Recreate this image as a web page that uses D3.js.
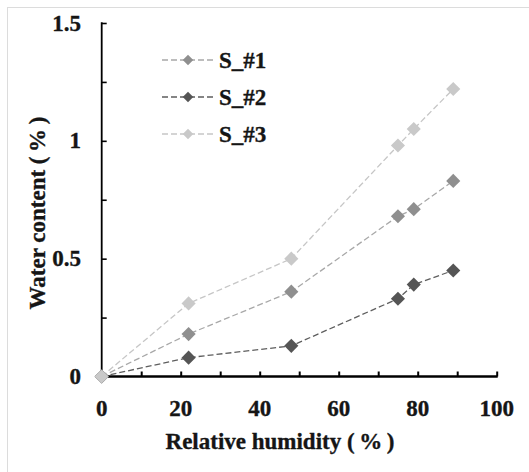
<!DOCTYPE html>
<html>
<head>
<meta charset="utf-8">
<script src="https://cdn.jsdelivr.net/npm/d3@7"></script>
<style>
  html, body { margin: 0; padding: 0; background: #fff; }
  svg { display: block; }
</style>
</head>
<body>
<svg id="chart" width="529" height="472"></svg>
<script>
// Relative humidity (%) at which each sample was weighed
const humidity = [0, 22, 48, 75, 79, 89];

// Water content (%) per sample
const s1 = [0, 0.18, 0.36, 0.68, 0.71, 0.83];
const s2 = [0, 0.08, 0.13, 0.33, 0.39, 0.45];
const s3 = [0, 0.31, 0.50, 0.98, 1.05, 1.22];

const seriesNames = ["S_#1", "S_#2", "S_#3"];
const xTickValues = [0, 20, 40, 60, 80, 100];
const yTickValues = [0, 0.5, 1, 1.5];

const series = [
  { name: seriesNames[0], values: s1, marker: "#8f8f8f", line: "#a8a8a8" },
  { name: seriesNames[1], values: s2, marker: "#555555", line: "#5e5e5e" },
  { name: seriesNames[2], values: s3, marker: "#c9c9c9", line: "#c6c6c6" }
];

const svg = d3.select("#chart");

function label(sel) {
  return sel.attr("font-family", "Liberation Serif").attr("font-weight", "bold")
    .attr("fill", "#151515").attr("stroke", "#151515").attr("stroke-width", 0.35);
}

// light frame around the figure
svg.append("rect")
  .attr("x", 7.5).attr("y", 7.5)
  .attr("width", 540).attr("height", 480)
  .attr("fill", "none").attr("stroke", "#dcdcdc").attr("stroke-width", 1);

const x = d3.scaleLinear().domain([0, 100]).range([101.7, 496.7]);
const y = d3.scaleLinear().domain([0, 1.5]).range([376.5, 23]);

// x axis: ticks every 10, pointing inward
const xAxis = svg.append("g").attr("transform", `translate(0,${y(0)})`)
  .call(d3.axisBottom(x).tickValues(d3.range(0, 101, 10)).tickSize(-5).tickFormat(""));
xAxis.select(".domain").remove();
xAxis.selectAll(".tick line").attr("stroke", "#000").attr("stroke-width", 2);
svg.append("line")
  .attr("x1", x(0)).attr("x2", x(100) + 1)
  .attr("y1", y(0)).attr("y2", y(0))
  .attr("stroke", "#000").attr("stroke-width", 2.4);

label(svg.append("g").selectAll("text").data(xTickValues).join("text"))
  .attr("x", d => x(d)).attr("y", y(0) + 39)
  .attr("text-anchor", "middle")
  .attr("font-size", 23)
  .text(d => d);

// y axis: ticks every 0.25, pointing inward
const yAxis = svg.append("g").attr("transform", `translate(${x(0)},0)`)
  .call(d3.axisLeft(y).tickValues(d3.range(0, 1.51, 0.25)).tickSize(-5).tickFormat(""));
yAxis.select(".domain").remove();
yAxis.selectAll(".tick line").attr("stroke", "#000").attr("stroke-width", 1.6);
svg.append("line")
  .attr("x1", x(0)).attr("x2", x(0))
  .attr("y1", y(1.5) - 0.8).attr("y2", y(0))
  .attr("stroke", "#000").attr("stroke-width", 1.8);

label(svg.append("g").selectAll("text").data(yTickValues).join("text"))
  .attr("x", 81).attr("y", d => y(d) + 7.5)
  .attr("text-anchor", "end")
  .attr("font-size", 23)
  .text(d => d);

// axis titles
label(svg.append("text"))
  .attr("x", 280).attr("y", 449)
  .attr("text-anchor", "middle")
  .attr("font-size", 23)
  .text("Relative humidity (\u2009%\u2009)");

label(svg.append("text"))
  .attr("transform", "translate(45,213) rotate(-90)")
  .attr("text-anchor", "middle")
  .attr("font-size", 23)
  .text("Water content (\u2009%\u2009)");

const diamond = d3.symbol().type(d3.symbolSquare).size(100);

const line = d3.line()
  .x((d, i) => x(humidity[i]))
  .y(d => y(d));

// series lines
svg.append("g").selectAll("path").data(series).join("path")
  .attr("d", d => line(d.values))
  .attr("fill", "none")
  .attr("stroke", d => d.line)
  .attr("stroke-width", 1.3)
  .attr("stroke-dasharray", "6,3");

// series markers
series.forEach(s => {
  svg.append("g").selectAll("path").data(s.values).join("path")
    .attr("transform", (d, i) => `translate(${x(humidity[i])},${y(d)}) rotate(45)`)
    .attr("d", diamond)
    .attr("fill", s.marker);
});

// legend
const legendY = [60, 97, 134];
const legend = svg.append("g").selectAll("g").data(series).join("g")
  .attr("transform", (d, i) => `translate(0,${legendY[i]})`);
legend.append("line")
  .attr("x1", 162).attr("x2", 215).attr("y1", 0).attr("y2", 0)
  .attr("stroke", d => d.line).attr("stroke-width", 1.3)
  .attr("stroke-dasharray", "6,3");
legend.append("path")
  .attr("transform", "translate(188,0) rotate(45)")
  .attr("d", d3.symbol().type(d3.symbolSquare).size(55))
  .attr("fill", d => d.marker);
label(legend.append("text"))
  .attr("x", 219).attr("y", 8)
  .attr("font-size", 23)
  .text(d => d.name);
</script>
</body>
</html>
